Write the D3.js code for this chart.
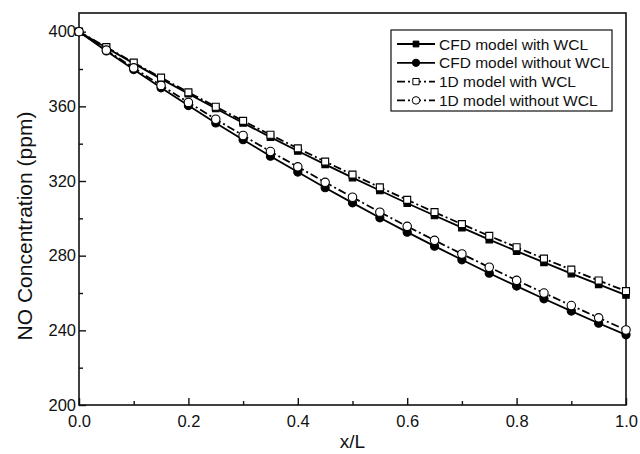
<!DOCTYPE html>
<html>
<head>
<meta charset="utf-8">
<script src="https://cdn.jsdelivr.net/npm/d3@7"></script>
<style>
  body { margin: 0; background: #fff; }
  svg { display: block; font-family: Arial, "Liberation Sans", Helvetica, sans-serif; }
</style>
</head>
<body>
<svg id="chart" width="640" height="454"></svg>
<script>
// x positions (x/L)
const xValues = [0, 0.05, 0.1, 0.15, 0.2, 0.25, 0.3, 0.35, 0.4, 0.45, 0.5,
  0.55, 0.6, 0.65, 0.7, 0.75, 0.8, 0.85, 0.9, 0.95, 1.0];

// NO concentration (ppm) for each model
const cfdWithWCL = [400, 391.4, 383.0, 374.7, 366.7, 358.8, 351.1, 343.5, 336.1, 328.9, 321.8,
  314.9, 308.1, 301.5, 295.0, 288.6, 282.4, 276.4, 270.4, 264.6, 258.9];
const cfdWithoutWCL = [400, 389.7, 379.7, 369.9, 360.4, 351.1, 342.1, 333.3, 324.8, 316.4, 308.3,
  300.3, 292.6, 285.1, 277.8, 270.6, 263.7, 256.9, 250.3, 243.8, 237.6];
const oneDWithWCL = [400, 391.7, 383.4, 375.4, 367.5, 359.8, 352.2, 344.8, 337.5, 330.4, 323.4,
  316.6, 309.9, 303.3, 296.9, 290.6, 284.5, 278.4, 272.5, 266.7, 261.0];
const oneDWithoutWCL = [400, 390.1, 380.6, 371.2, 362.1, 353.1, 344.4, 335.8, 327.6, 319.3, 311.3,
  303.3, 295.7, 288.2, 280.9, 273.8, 266.8, 260.0, 253.3, 246.7, 240.2];

const xTicks = [0, 0.2, 0.4, 0.6, 0.8, 1.0];
const xMinorTicks = [0.1, 0.3, 0.5, 0.7, 0.9];
const yTicks = [200, 240, 280, 320, 360, 400];
const yMinorTicks = [220, 260, 300, 340, 380];

const seriesNames = ['CFD model with WCL', 'CFD model without WCL', '1D model with WCL', '1D model without WCL'];

const series = [
  { name: seriesNames[0], values: cfdWithWCL, symbol: d3.symbolSquare, size: 42, fill: '#000', dash: null },
  { name: seriesNames[1], values: cfdWithoutWCL, symbol: d3.symbolCircle, size: 52, fill: '#000', dash: null },
  { name: seriesNames[2], values: oneDWithWCL, symbol: d3.symbolSquare, size: 49, fill: '#fff', dash: '8,3,2,3' },
  { name: seriesNames[3], values: oneDWithoutWCL, symbol: d3.symbolCircle, size: 56, fill: '#fff', dash: '8,3,2,3' }
];

const svg = d3.select('#chart');
const plot = { left: 79, right: 626, top: 13, bottom: 405 };

const x = d3.scaleLinear().domain([0, 1]).range([plot.left, plot.right]);
const y = d3.scaleLinear().domain([200, 410]).range([plot.bottom, plot.top]);

// frame
svg.append('rect')
  .attr('x', plot.left).attr('y', plot.top)
  .attr('width', plot.right - plot.left).attr('height', plot.bottom - plot.top)
  .attr('fill', 'none').attr('stroke', '#111').attr('stroke-width', 1.6);

// axes with inward ticks
svg.append('g')
  .attr('transform', `translate(0,${plot.bottom})`)
  .call(d3.axisBottom(x).tickValues(xTicks).tickFormat(d3.format('.1f'))
    .tickSize(-7).tickPadding(10));
svg.append('g')
  .attr('transform', `translate(0,${plot.bottom})`)
  .call(d3.axisBottom(x).tickValues(xMinorTicks).tickFormat('').tickSize(-4));

svg.append('g')
  .attr('transform', `translate(${plot.left},0)`)
  .call(d3.axisLeft(y).tickValues(yTicks).tickSize(-7).tickPadding(3));
svg.append('g')
  .attr('transform', `translate(${plot.left},0)`)
  .call(d3.axisLeft(y).tickValues(yMinorTicks).tickFormat('').tickSize(-4));

svg.selectAll('.domain').remove();
svg.selectAll('.tick line').attr('stroke', '#111').attr('stroke-width', 1.4);
svg.selectAll('.tick text')
  .attr('fill', '#111')
  .style('font-size', '16.5px');

// axis titles
svg.append('text')
  .attr('x', (plot.left + plot.right) / 2)
  .attr('y', 448)
  .attr('text-anchor', 'middle')
  .style('font-size', '19px')
  .attr('fill', '#111')
  .text('x/L');

svg.append('text')
  .attr('transform', 'translate(32,226) rotate(-90)')
  .attr('text-anchor', 'middle')
  .style('font-size', '21px')
  .attr('fill', '#111')
  .text('NO Concentration (ppm)');

// lines and markers
const line = d3.line()
  .x((d, i) => x(xValues[i]))
  .y(d => y(d));

series.forEach(s => {
  svg.append('path')
    .datum(s.values)
    .attr('d', line)
    .attr('fill', 'none')
    .attr('stroke', '#000')
    .attr('stroke-width', 1.8)
    .attr('stroke-dasharray', s.dash);
});

series.forEach(s => {
  svg.append('g').selectAll('path')
    .data(s.values)
    .enter()
    .append('path')
    .attr('transform', (d, i) => `translate(${x(xValues[i])},${y(d)})`)
    .attr('d', d3.symbol().type(s.symbol).size(s.size))
    .attr('fill', s.fill)
    .attr('stroke', '#000')
    .attr('stroke-width', 1.1);
});

// legend
const legend = svg.append('g');
legend.append('rect')
  .attr('x', 391).attr('y', 30)
  .attr('width', 221).attr('height', 81)
  .attr('fill', '#fff').attr('stroke', '#111').attr('stroke-width', 1.2);

series.forEach((s, i) => {
  const ly = 44 + i * 18.8;
  legend.append('line')
    .attr('x1', 397).attr('x2', 435)
    .attr('y1', ly).attr('y2', ly)
    .attr('stroke', '#000').attr('stroke-width', 1.8)
    .attr('stroke-dasharray', s.dash);
  legend.append('path')
    .attr('transform', `translate(416,${ly})`)
    .attr('d', d3.symbol().type(s.symbol).size(s.size * 0.8))
    .attr('fill', s.fill).attr('stroke', '#000').attr('stroke-width', 1);
  legend.append('text')
    .attr('x', 439).attr('y', ly + 5.5)
    .style('font-size', '15.5px')
    .attr('fill', '#111')
    .text(s.name);
});
</script>
</body>
</html>
